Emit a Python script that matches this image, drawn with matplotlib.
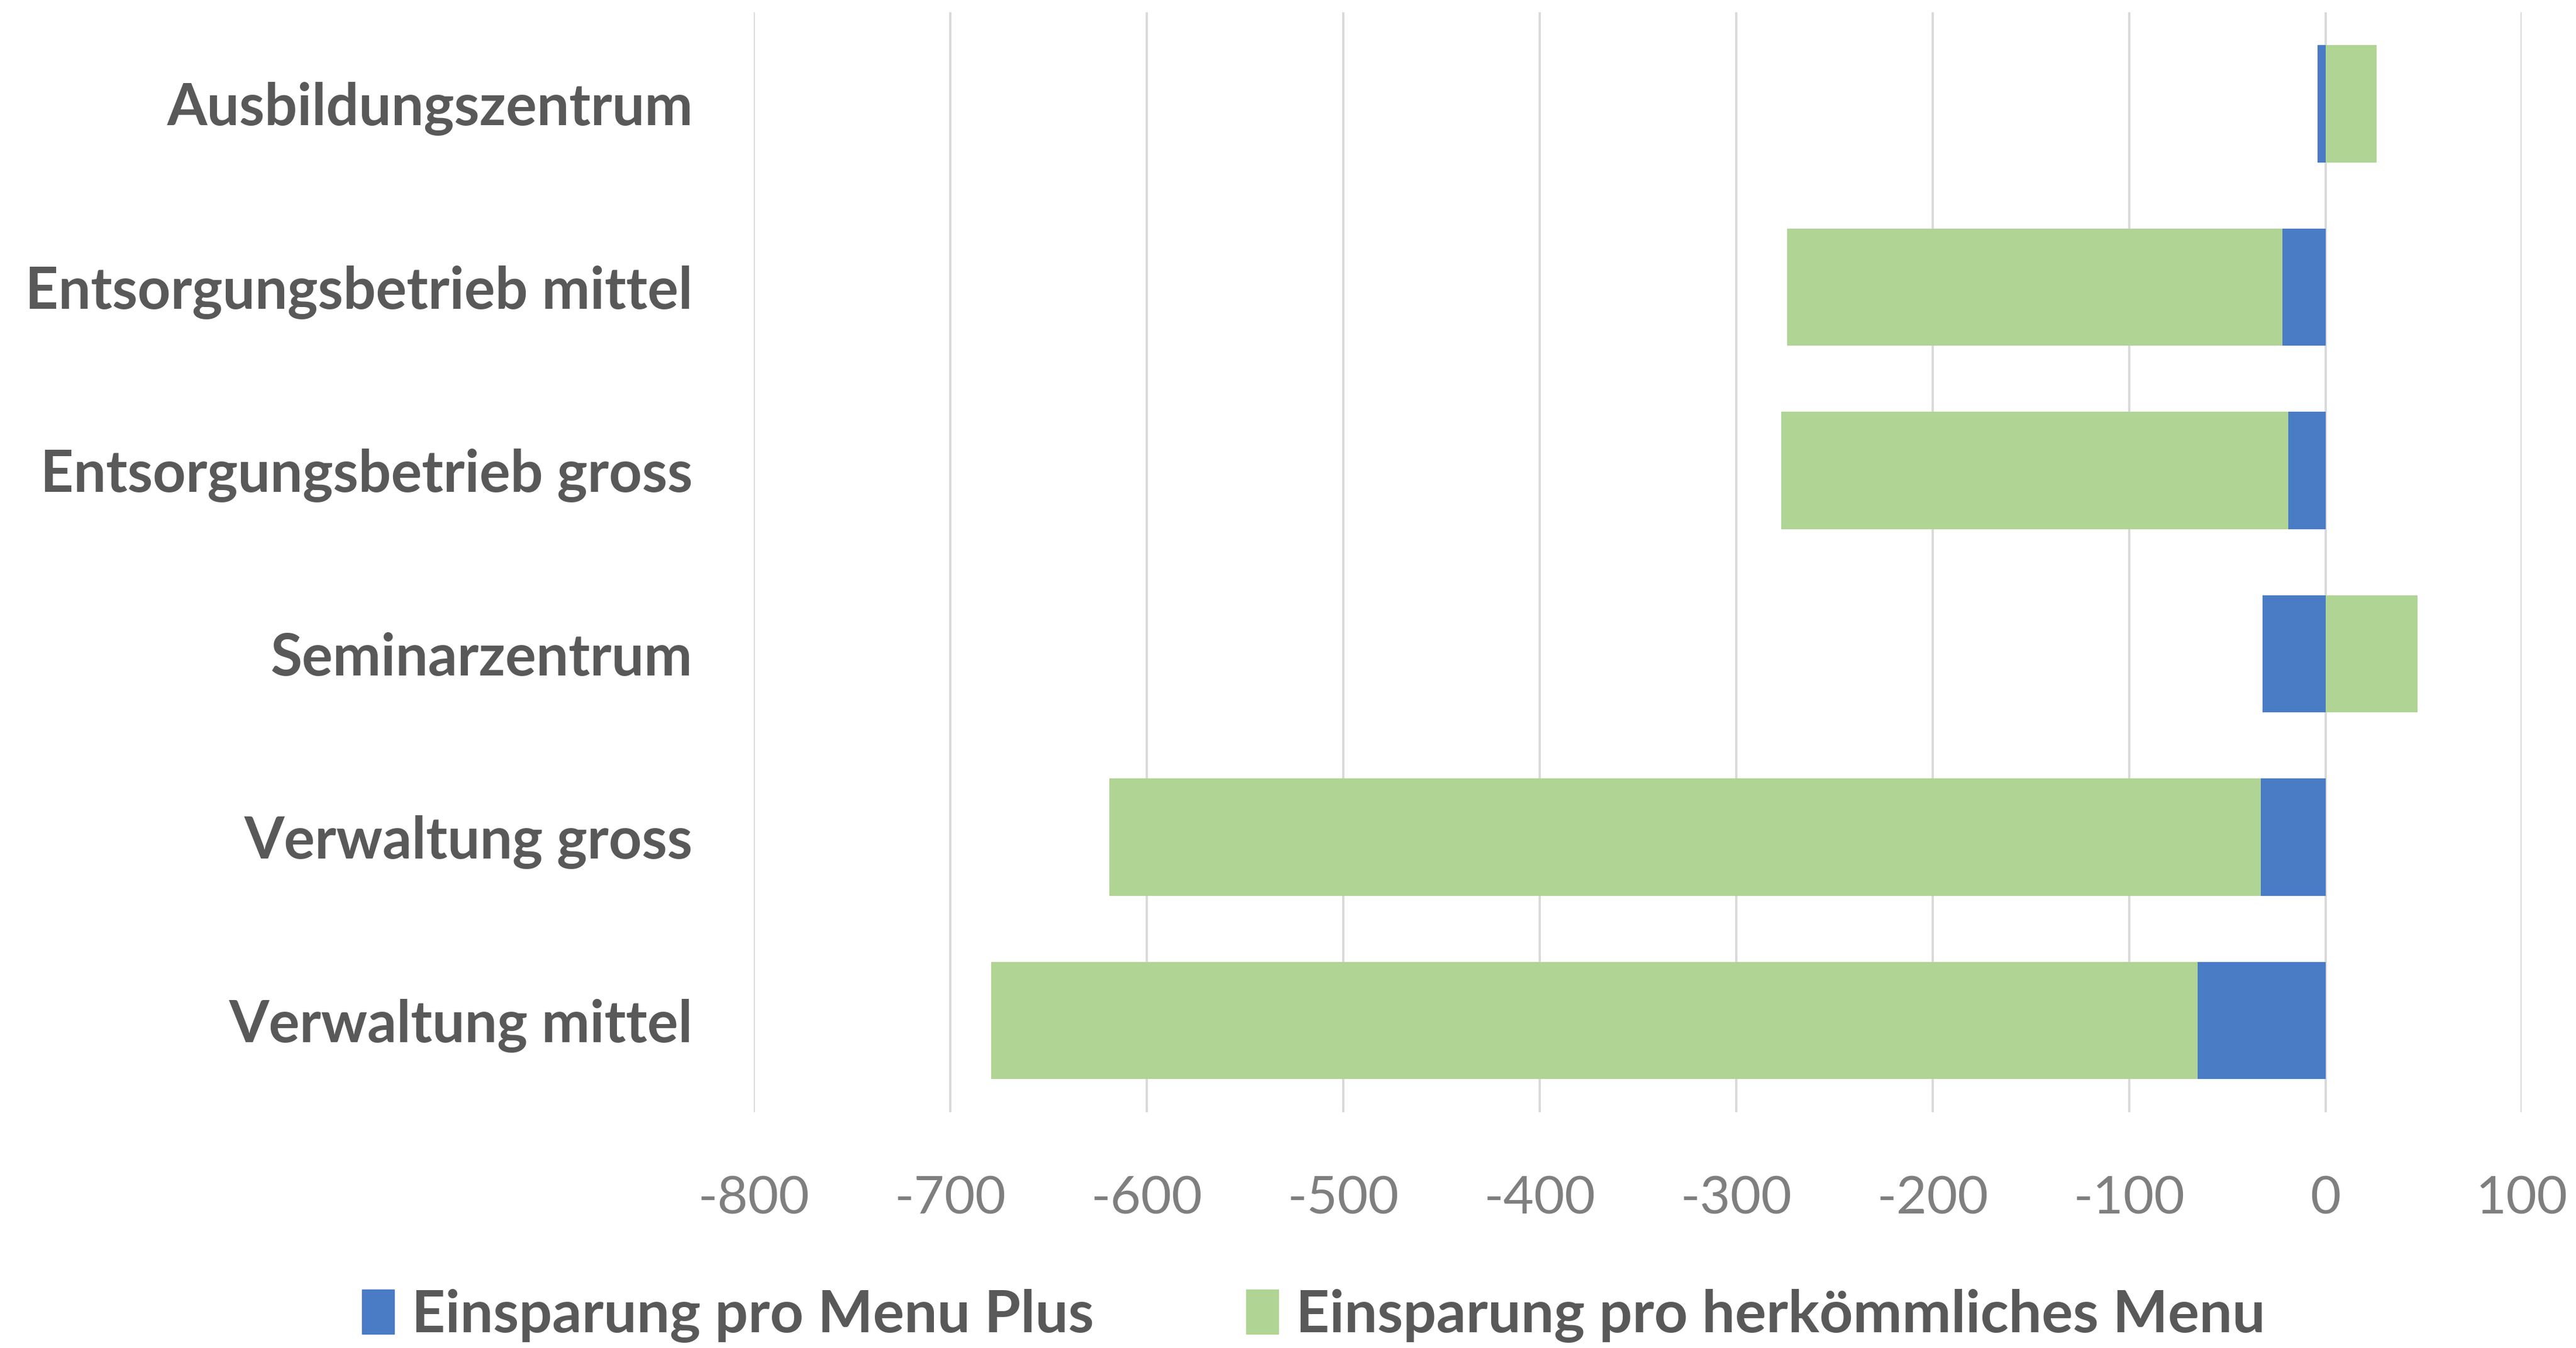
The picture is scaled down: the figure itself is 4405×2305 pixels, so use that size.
import matplotlib
matplotlib.use("Agg")
import matplotlib.pyplot as plt
import matplotlib.patches as mpatches
import numpy as np

plt.rcParams['font.family'] = ['Lato', 'DejaVu Sans']

# savings per site (negative = cost reduction)
betriebe = ['Verwaltung mittel', 'Verwaltung gross', 'Seminarzentrum',
            'Entsorgungsbetrieb gross', 'Entsorgungsbetrieb mittel',
            'Ausbildungszentrum']
menu_plus = [-65, -33, -32, -19, -22, -4]
menu_herk = [-614, -586, 47, -258, -252, 26]
xticks = [-800, -700, -600, -500, -400, -300, -200, -100, 0, 100]

c_blue = '#4A7BC5'
c_green = '#B0D494'
c_text = '#595959'
c_grid = '#D9D9D9'

fig = plt.figure(figsize=(44.05, 23.05), dpi=100)
ax = fig.add_axes([0.2926, 0.175, 0.979 - 0.2926, 0.816])

y = np.arange(len(betriebe))
plus = np.array(menu_plus, dtype=float)
herk = np.array(menu_herk, dtype=float)
# negative values stack onto negative ones, positive start at zero
herk_left = np.where((herk < 0) & (plus < 0), plus, 0)

ax.barh(y, plus, height=0.64, color=c_blue, zorder=3)
ax.barh(y, herk, left=herk_left, height=0.64, color=c_green, zorder=3)

ax.set_xlim(-800, 100)
ax.set_ylim(-0.5, len(betriebe) - 0.5)
ax.set_xticks(xticks)
ax.set_xticklabels([str(t) for t in xticks])
ax.xaxis.grid(True, color=c_grid, linewidth=2.8, zorder=0)
ax.set_axisbelow(True)
ax.set_yticks(y)
ax.set_yticklabels(betriebe, fontsize=71, fontweight='bold', color=c_text)
ax.tick_params(axis='x', labelsize=65, colors='#7F7F7F', length=0, pad=78)
ax.tick_params(axis='y', length=0, pad=75)
for s in ax.spines.values():
    s.set_visible(False)

handles = [mpatches.Patch(color=c_blue, label='Einsparung pro Menu Plus'),
           mpatches.Patch(color=c_green, label='Einsparung pro herkömmliches Menu')]
leg = fig.legend(handles=handles, loc='center', bbox_to_anchor=(0.510, 0.024),
                 ncol=2, frameon=False, handlelength=0.55, handleheight=0.8,
                 handletextpad=0.3, columnspacing=2.6,
                 prop={'size': 72, 'weight': 'bold'})
for t in leg.get_texts():
    t.set_color(c_text)

fig.savefig('out.png', dpi=100, facecolor='white')
